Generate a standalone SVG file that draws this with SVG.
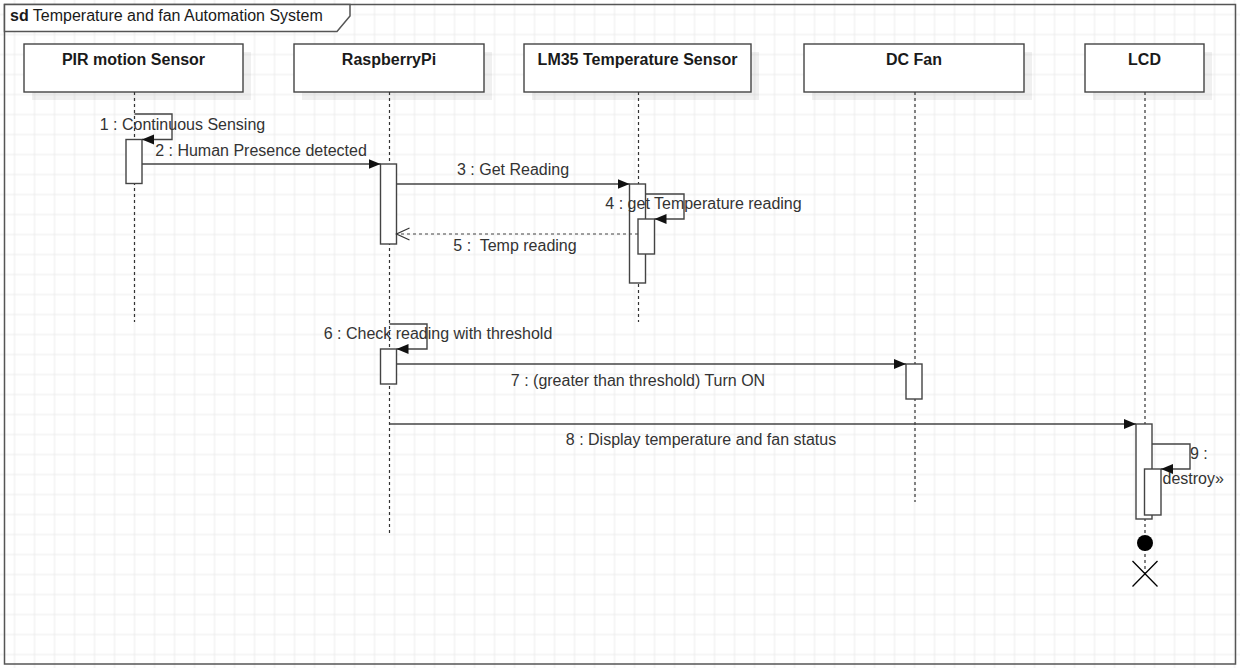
<svg xmlns="http://www.w3.org/2000/svg" width="1240" height="668" viewBox="0 0 1240 668">
<style>
.head{fill:#fff;stroke:#444;stroke-width:1.4}
.shadow{fill:#000;fill-opacity:0.06}
.ht{font-family:"Liberation Sans",Arial,sans-serif;font-size:16px;font-weight:bold;fill:#1a1a1a;text-anchor:middle}
.life{stroke:#333;stroke-width:1.2;stroke-dasharray:3 3;fill:none}
.act{fill:#fff;stroke:#444;stroke-width:1.4}
.msg{stroke:#444;stroke-width:1.4;fill:none}
.ret{stroke:#444;stroke-width:1.2;fill:none;stroke-dasharray:3 3}
.lbl{font-family:"Liberation Sans",Arial,sans-serif;font-size:16px;fill:#333;text-anchor:middle}
.lbls{font-family:"Liberation Sans",Arial,sans-serif;font-size:16px;fill:#333}
</style>
<defs>
<pattern id="grid" x="4.5" y="4.5" width="20" height="20" patternUnits="userSpaceOnUse">
<path d="M10,0 V20 M0,10 H20" stroke="#ececec" stroke-width="1" fill="none"/>
</pattern>
<marker id="fill" markerUnits="userSpaceOnUse" markerWidth="13" markerHeight="11" refX="12" refY="5" orient="auto">
<path d="M0,0 L12,5 L0,10 z" fill="#111"/>
</marker>
<marker id="open" markerUnits="userSpaceOnUse" markerWidth="15" markerHeight="14" refX="13.5" refY="6.5" orient="auto">
<path d="M0.5,0.5 L13.5,6.5 L0.5,12.5" fill="none" stroke="#333" stroke-width="1.2"/>
</marker>
</defs>
<rect width="1240" height="668" fill="#fff"/>
<rect width="1240" height="668" fill="url(#grid)"/>
<g id="frame">
<rect x="4.5" y="4.5" width="1231" height="659.5" fill="none" stroke="#555" stroke-width="1.5"/>
<path d="M4.5,4.5 H350 V16 L337,31.5 H4.5 z" fill="#fff" stroke="#555" stroke-width="1.5"/>
<text x="10" y="21" font-family="'Liberation Sans',Arial,sans-serif" font-size="16" fill="#1a1a1a"><tspan font-weight="bold">sd</tspan> Temperature and fan Automation System</text>
</g>
<g id="pir">
<rect class="shadow" x="32" y="52" width="219" height="48"/>
<rect class="head" x="24" y="44" width="219" height="48"/>
<text class="ht" x="133.5" y="65">PIR motion Sensor</text>
<line class="life" x1="134.5" y1="92" x2="134.5" y2="322"/>
<rect class="act" x="126" y="139.5" width="16" height="44"/>
</g>
<g id="rpi">
<rect class="shadow" x="302" y="52" width="190" height="48"/>
<rect class="head" x="294" y="44" width="190" height="48"/>
<text class="ht" x="389" y="65">RaspberryPi</text>
<line class="life" x1="389.5" y1="92" x2="389.5" y2="533"/>
<rect class="act" x="380.5" y="164" width="16" height="80"/>
<rect class="act" x="380.5" y="349" width="16" height="35"/>
</g>
<g id="lm35">
<rect class="shadow" x="532" y="52" width="227" height="48"/>
<rect class="head" x="524" y="44" width="227" height="48"/>
<text class="ht" x="637.5" y="65">LM35 Temperature Sensor</text>
<line class="life" x1="638.5" y1="92" x2="638.5" y2="322"/>
<rect class="act" x="629.5" y="184" width="16" height="99"/>
<rect class="act" x="638" y="219" width="16.5" height="35"/>
</g>
<g id="fan">
<rect class="shadow" x="812" y="52" width="220" height="48"/>
<rect class="head" x="804" y="44" width="220" height="48"/>
<text class="ht" x="914" y="65">DC Fan</text>
<line class="life" x1="915" y1="92" x2="915" y2="502"/>
<rect class="act" x="906" y="364" width="16" height="35"/>
</g>
<g id="lcd">
<rect class="shadow" x="1093" y="52" width="119" height="48"/>
<rect class="head" x="1085" y="44" width="119" height="48"/>
<text class="ht" x="1144.5" y="65">LCD</text>
<line class="life" x1="1145" y1="92" x2="1145" y2="575"/>
<rect class="act" x="1136" y="424" width="16" height="95"/>
<rect class="act" x="1144.5" y="469" width="16.5" height="46"/>
<circle cx="1145" cy="543" r="8" fill="#000"/>
<path d="M1132.5,561 L1157.5,586.5 M1157.5,561 L1132.5,586.5" stroke="#000" stroke-width="1.3" fill="none"/>
</g>
<g id="connectors">
<path class="msg" d="M134.5,114 H172 V139.5 H142" marker-end="url(#fill)"/>
<text class="lbl" x="182.5" y="130">1 : Continuous Sensing</text>
<path class="msg" d="M142,164 H380.5" marker-end="url(#fill)"/>
<text class="lbl" x="261" y="156">2 : Human Presence detected</text>
<path class="msg" d="M396.5,184 H629.5" marker-end="url(#fill)"/>
<text class="lbl" x="513" y="175">3 : Get Reading</text>
<path class="msg" d="M645.5,194 H684 V219 H654.5" marker-end="url(#fill)"/>
<text class="lbl" x="703.5" y="209">4 : get Temperature reading</text>
<path class="ret" d="M638,234 H396.5" marker-end="url(#open)"/>
<text class="lbl" x="515" y="251" xml:space="preserve">5 :  Temp reading</text>
<path class="msg" d="M389.5,324 H427 V349 H396.5" marker-end="url(#fill)"/>
<text class="lbl" x="438" y="339">6 : Check reading with threshold</text>
<path class="msg" d="M396.5,364 H906" marker-end="url(#fill)"/>
<text class="lbl" x="638" y="386">7 : (greater than threshold) Turn ON</text>
<path class="msg" d="M389.5,424 H1136" marker-end="url(#fill)"/>
<text class="lbl" x="701" y="445">8 : Display temperature and fan status</text>
<path class="msg" d="M1152,444 H1190 V469 H1161" marker-end="url(#fill)"/>
<text class="lbls" x="1190" y="459">9 :</text>
<text class="lbls" x="1162.5" y="484">destroy»</text>
</g>
</svg>
